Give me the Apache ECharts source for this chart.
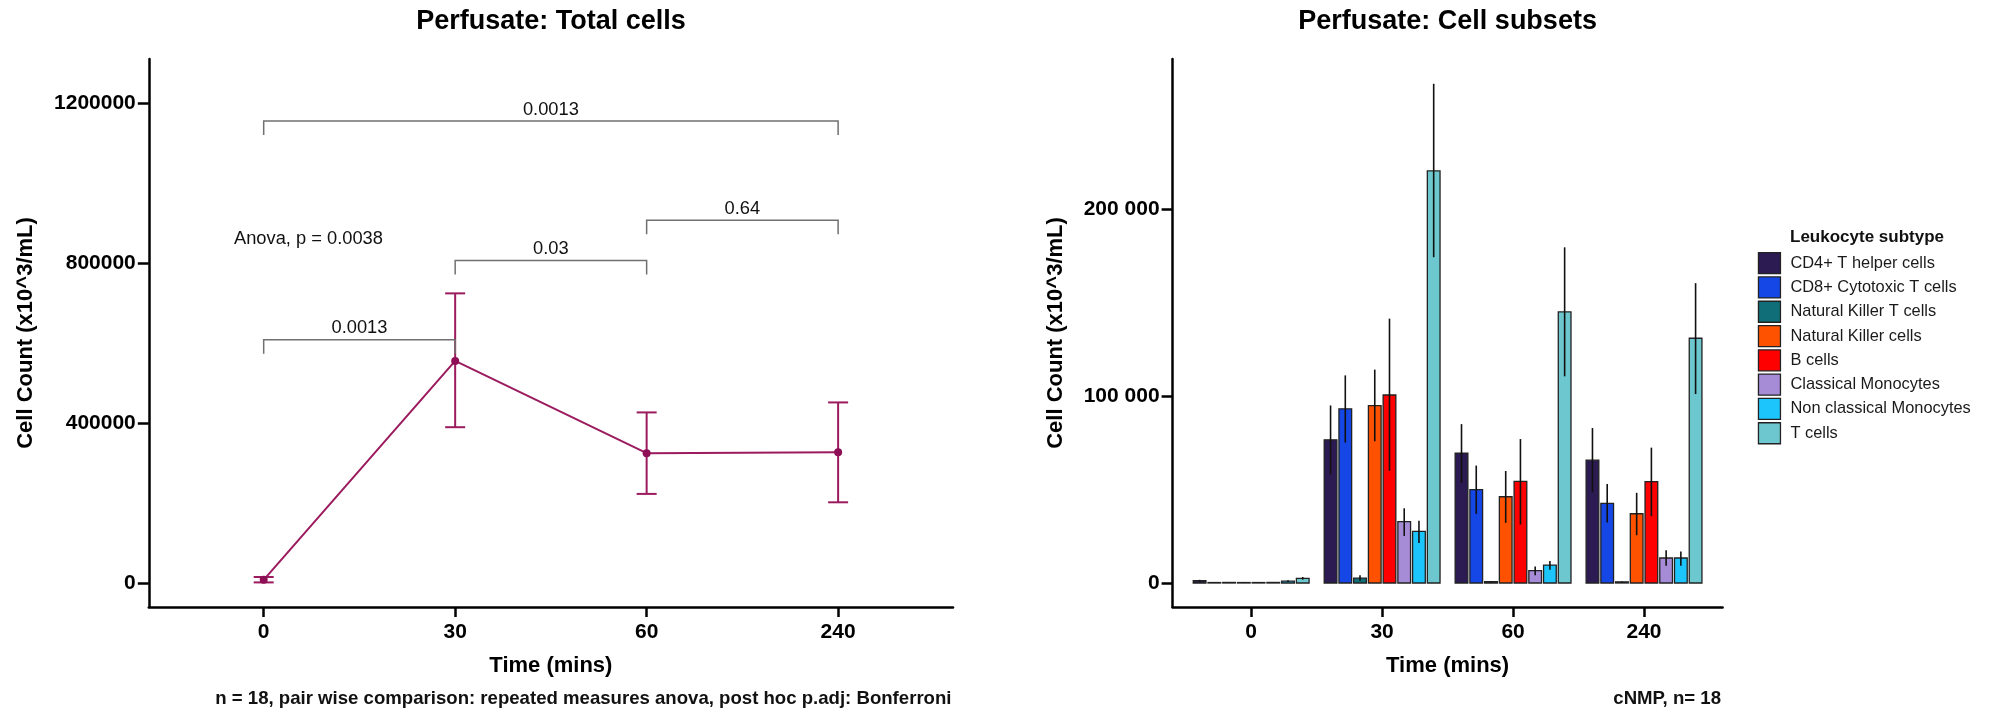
<!DOCTYPE html>
<html><head><meta charset="utf-8">
<script src="https://cdn.jsdelivr.net/npm/echarts@6/dist/echarts.min.js"></script>
<style>html,body{margin:0;padding:0;background:#fff}#c{width:1990px;height:712px}</style>
</head><body><div id="c"></div>
<script>
// ---------- shared ----------
const timeLabels = ['0', '30', '60', '240'];

// ---------- left panel: total cells ----------
const totalMean  = [8000, 556000, 325000, 327000];
const totalLower = [1500, 390000, 223000, 202000];
const totalUpper = [15000, 725000, 427000, 452000];
const leftYTicks = [0, 400000, 800000, 1200000];
const bracketFrom = [0, 2, 1, 0];
const bracketTo   = [3, 3, 2, 1];
const bracketY    = [1156500, 908000, 807500, 609000];
const bracketP    = ['0.0013', '0.64', '0.03', '0.0013'];
const anovaText = 'Anova, p = 0.0038';
const anovaAt = [-0.155, 860500];

// ---------- right panel: cell subsets ----------
const subsets = ['CD4+ T helper cells', 'CD8+ Cytotoxic T cells', 'Natural Killer T cells',
  'Natural Killer cells', 'B cells', 'Classical Monocytes', 'Non classical Monocytes', 'T cells'];
const subsetColors = ['#2c1a52', '#1546e6', '#0f6e78', '#ff5200', '#ff0000', '#a68bd6', '#1cc6fc', '#6cc8ce'];
const cd4Mean = [1200, 76700, 69500, 65800], cd4Lo = [700, 58100, 53700, 48500], cd4Hi = [1700, 95100, 85100, 83000];
const cd8Mean = [250, 93300, 50000, 42700], cd8Lo = [150, 75200, 37000, 32400], cd8Hi = [350, 111200, 62900, 53000];
const nktMean = [300, 2600, 700, 600], nktLo = [200, 1200, 400, 400], nktHi = [400, 4100, 1000, 800];
const nkMean = [250, 95000, 46200, 37100], nkLo = [150, 75900, 32200, 25600], nkHi = [350, 114300, 60000, 48300];
const bMean = [250, 100700, 54400, 54300], bLo = [150, 60100, 31300, 35800], bHi = [350, 141600, 77100, 72500];
const cmMean = [300, 32900, 6600, 13400], cmLo = [200, 25200, 4200, 9300], cmHi = [400, 40000, 8800, 17600];
const ncmMean = [1000, 27600, 9600, 13400], ncmLo = [500, 21400, 7100, 9300], ncmHi = [1500, 33400, 11800, 16900];
const tMean = [2500, 220700, 145200, 131100], tLo = [1800, 174500, 110700, 101200], tHi = [3200, 267400, 179800, 160600];
const subsetMeans = [cd4Mean, cd8Mean, nktMean, nkMean, bMean, cmMean, ncmMean, tMean];
const subsetLows  = [cd4Lo, cd8Lo, nktLo, nkLo, bLo, cmLo, ncmLo, tLo];
const subsetHighs = [cd4Hi, cd8Hi, nktHi, nkHi, bHi, cmHi, ncmHi, tHi];
const rightYTicks = [0, 100000, 200000];

// ---------- styling ----------
const FONT = 'Liberation Sans, Arial, Helvetica, sans-serif';
const lineColor = '#9b1b5e';
const bracketColor = '#707070';
const dodge = 0.9 / subsets.length;
const barW = 0.097;

function xAxisCfg(gi) {
  return {
    gridIndex: gi, type: 'value', min: -0.6, max: 3.6,
    axisLine: { show: true, onZero: false, lineStyle: { color: '#000', width: 2.5 } },
    axisTick: { show: true, customValues: [0, 1, 2, 3], length: 10, lineStyle: { color: '#000', width: 2.5 } },
    axisLabel: { customValues: [0, 1, 2, 3], formatter: v => timeLabels[Math.round(v)],
      fontSize: 21, fontWeight: 'bold', color: '#000', margin: 15, fontFamily: FONT },
    splitLine: { show: false },
    name: 'Time (mins)', nameLocation: 'middle', nameGap: 48,
    nameTextStyle: { fontSize: 22, fontWeight: 'bold', color: '#000', fontFamily: FONT }
  };
}
function yAxisCfg(gi, min, max, ticks, fmt, gap) {
  return {
    gridIndex: gi, type: 'value', min: min, max: max,
    axisLine: { show: true, onZero: false, lineStyle: { color: '#000', width: 2.5 } },
    axisTick: { show: true, customValues: ticks, length: 11, lineStyle: { color: '#000', width: 2.5 } },
    axisLabel: { customValues: ticks, formatter: fmt, fontSize: 21, fontWeight: 'bold', color: '#000', margin: 13, fontFamily: FONT },
    splitLine: { show: false },
    name: 'Cell Count (x10^3/mL)', nameLocation: 'middle', nameGap: gap,
    nameTextStyle: { fontSize: 22, fontWeight: 'bold', color: '#000', fontFamily: FONT }
  };
}
const spaceFmt = v => String(v).replace(/\B(?=(\d{3})+(?!\d))/g, ' ');

const series = [];
// left: error bars
series.push({
  type: 'custom', xAxisIndex: 0, yAxisIndex: 0, z: 2,
  data: totalMean.map((m, i) => [i, totalLower[i], totalUpper[i]]),
  encode: { x: 0, y: [1, 2] },
  renderItem: (params, api) => {
    const lo = api.coord([api.value(0), api.value(1)]);
    const hi = api.coord([api.value(0), api.value(2)]);
    const st = { stroke: lineColor, lineWidth: 2 };
    return { type: 'group', children: [
      { type: 'line', shape: { x1: lo[0], y1: lo[1], x2: hi[0], y2: hi[1] }, style: st },
      { type: 'line', shape: { x1: lo[0] - 10, y1: lo[1], x2: lo[0] + 10, y2: lo[1] }, style: st },
      { type: 'line', shape: { x1: hi[0] - 10, y1: hi[1], x2: hi[0] + 10, y2: hi[1] }, style: st }
    ]};
  }
});
// left: mean line
series.push({
  type: 'line', xAxisIndex: 0, yAxisIndex: 0, z: 3,
  data: totalMean.map((m, i) => [i, m]),
  symbol: 'circle', symbolSize: 8, itemStyle: { color: '#8e0f55' },
  lineStyle: { color: lineColor, width: 2 }
});
// left: significance brackets
series.push({
  type: 'custom', xAxisIndex: 0, yAxisIndex: 0, z: 4,
  data: bracketFrom.map((f, i) => [f, bracketTo[i], bracketY[i], i]),
  encode: { x: [0, 1], y: 2 },
  renderItem: (params, api) => {
    const a = api.coord([api.value(0), api.value(2)]);
    const b = api.coord([api.value(1), api.value(2)]);
    return { type: 'group', children: [
      { type: 'polyline', shape: { points: [[a[0], a[1] + 14], [a[0], a[1]], [b[0], b[1]], [b[0], b[1] + 14]] },
        style: { stroke: bracketColor, lineWidth: 1.5, fill: 'none' } },
      { type: 'text', x: (a[0] + b[0]) / 2, y: a[1] - 11.5,
        style: { text: bracketP[api.value(3)], fill: '#111', fontSize: 18.3, fontFamily: FONT, align: 'center', verticalAlign: 'middle' } }
    ]};
  }
});
// left: anova annotation
series.push({
  type: 'custom', xAxisIndex: 0, yAxisIndex: 0, z: 4,
  data: [anovaAt],
  renderItem: (params, api) => {
    const p = api.coord([api.value(0), api.value(1)]);
    return { type: 'text', x: p[0], y: p[1],
      style: { text: anovaText, fill: '#111', fontSize: 18.3, fontFamily: FONT, align: 'left', verticalAlign: 'middle' } };
  }
});
// right: bars with error bars
subsets.forEach((name, si) => {
  const off = (si - (subsets.length - 1) / 2) * dodge;
  series.push({
    type: 'custom', name: name, xAxisIndex: 1, yAxisIndex: 1, z: 2,
    itemStyle: { color: subsetColors[si] },
    data: timeLabels.map((t, j) => [j, subsetMeans[si][j], subsetLows[si][j], subsetHighs[si][j]]),
    encode: { x: 0, y: [1, 2, 3] },
    renderItem: (params, api) => {
      const x = api.value(0) + off;
      const p0 = api.coord([x - barW / 2, 0]);
      const p1 = api.coord([x + barW / 2, api.value(1)]);
      const lo = api.coord([x, api.value(2)]);
      const hi = api.coord([x, api.value(3)]);
      return { type: 'group', children: [
        { type: 'rect', shape: { x: p0[0], y: p1[1], width: p1[0] - p0[0], height: p0[1] - p1[1] },
          style: { fill: api.visual('color'), stroke: '#222', lineWidth: 1.3 } },
        { type: 'line', shape: { x1: lo[0], y1: lo[1], x2: hi[0], y2: hi[1] },
          style: { stroke: '#111', lineWidth: 1.6 } }
      ]};
    }
  });
});

const option = {
  animation: false,
  backgroundColor: '#fff',
  textStyle: { fontFamily: FONT },
  title: [
    { text: 'Perfusate: Total cells', left: 551, top: 8.5, textAlign: 'center', padding: 0,
      textStyle: { fontSize: 27, fontWeight: 'bold', color: '#000', fontFamily: FONT } },
    { text: 'Perfusate: Cell subsets', left: 1447.6, top: 8.5, textAlign: 'center', padding: 0,
      textStyle: { fontSize: 27, fontWeight: 'bold', color: '#000', fontFamily: FONT } },
    { text: 'n = 18, pair wise comparison: repeated measures anova, post hoc p.adj: Bonferroni', left: 951.5, top: 689.5, textAlign: 'right', padding: 0,
      textStyle: { fontSize: 18.6, fontWeight: 'bold', color: '#111', fontFamily: FONT } },
    { text: 'cNMP, n= 18', left: 1721, top: 689.5, textAlign: 'right', padding: 0,
      textStyle: { fontSize: 18.6, fontWeight: 'bold', color: '#111', fontFamily: FONT } },
    { text: 'Leukocyte subtype', left: 1790, top: 228.5, padding: 0,
      textStyle: { fontSize: 17, fontWeight: 'bold', color: '#111', fontFamily: FONT } }
  ],
  legend: {
    data: subsets, orient: 'vertical', left: 1757.8, top: 252, padding: 0,
    itemWidth: 22, itemHeight: 21, itemGap: 2.0, icon: 'rect', selectedMode: false,
    itemStyle: { borderColor: '#222', borderWidth: 1.3 },
    textStyle: { fontSize: 16.4, color: '#1a1a1a', lineHeight: 21, padding: [0, 0, 0, 5], fontFamily: FONT }
  },
  grid: [
    { left: 148.8, top: 59, width: 804.2, height: 548 },
    { left: 1172.6, top: 59, width: 550, height: 548 }
  ],
  xAxis: [xAxisCfg(0), xAxisCfg(1)],
  yAxis: [
    yAxisCfg(0, -60075, 1311640, leftYTicks, v => String(v), 112),
    yAxisCfg(1, -12855, 280664, rightYTicks, spaceFmt, 106)
  ],
  series: series
};
const chart = echarts.init(document.getElementById('c'), null, { renderer: 'canvas' });
chart.setOption(option);
</script>
</body></html>
